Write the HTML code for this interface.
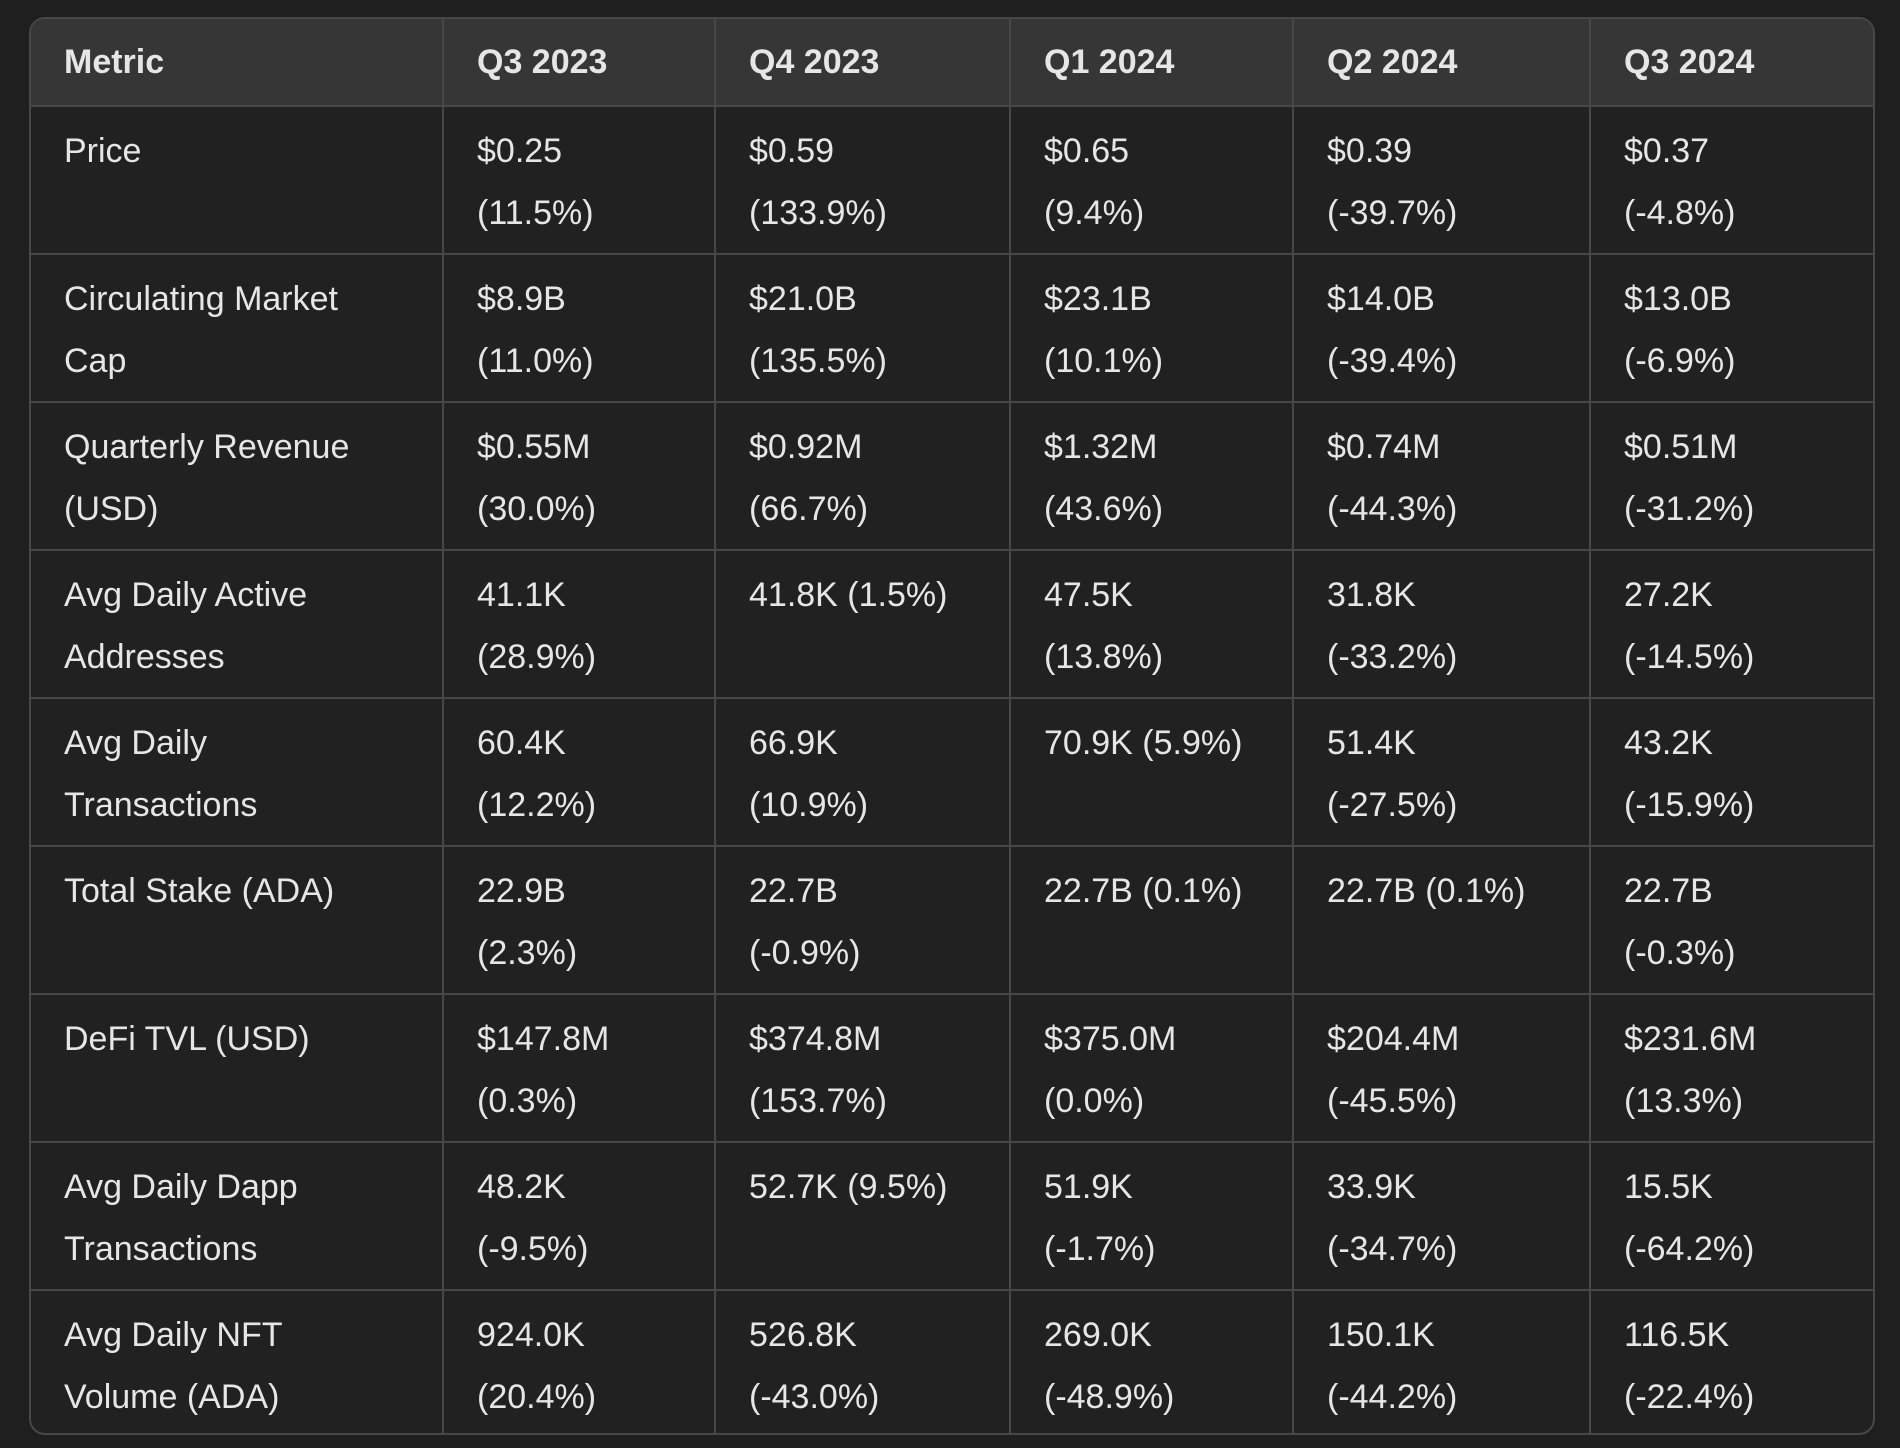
<!DOCTYPE html>
<html><head><meta charset="utf-8"><style>
html,body{margin:0;padding:0;background:#1f1f1f;width:1900px;height:1448px;overflow:hidden}
.wrap{position:absolute;left:29px;top:17px;width:1842px;height:1414px;border:2px solid #474747;border-radius:16px;overflow:hidden;background:#212121}
table{border-collapse:collapse;table-layout:fixed;width:1846px;margin:-2px 0 0 -2px;font-family:"Liberation Sans",sans-serif;color:#e6e6e6;font-size:34px}
td,th{border:2px solid #474747;vertical-align:top;text-align:left;padding:13px 30px 0 33px;line-height:62px;box-sizing:border-box}
th{background:#363636;font-weight:bold;height:88px;padding-top:12px}
td{height:148px}
</style></head><body>
<div class="wrap">
<table>
<colgroup><col style="width:413px"><col style="width:272px"><col style="width:295px"><col style="width:283px"><col style="width:297px"><col style="width:286px"></colgroup>
<tr><th>Metric</th><th>Q3 2023</th><th>Q4 2023</th><th>Q1 2024</th><th>Q2 2024</th><th>Q3 2024</th></tr>
<tr><td>Price</td><td>$0.25<br>(11.5%)</td><td>$0.59<br>(133.9%)</td><td>$0.65<br>(9.4%)</td><td>$0.39<br>(-39.7%)</td><td>$0.37<br>(-4.8%)</td></tr>
<tr><td>Circulating Market<br>Cap</td><td>$8.9B<br>(11.0%)</td><td>$21.0B<br>(135.5%)</td><td>$23.1B<br>(10.1%)</td><td>$14.0B<br>(-39.4%)</td><td>$13.0B<br>(-6.9%)</td></tr>
<tr><td>Quarterly Revenue<br>(USD)</td><td>$0.55M<br>(30.0%)</td><td>$0.92M<br>(66.7%)</td><td>$1.32M<br>(43.6%)</td><td>$0.74M<br>(-44.3%)</td><td>$0.51M<br>(-31.2%)</td></tr>
<tr><td>Avg Daily Active<br>Addresses</td><td>41.1K<br>(28.9%)</td><td>41.8K (1.5%)</td><td>47.5K<br>(13.8%)</td><td>31.8K<br>(-33.2%)</td><td>27.2K<br>(-14.5%)</td></tr>
<tr><td>Avg Daily<br>Transactions</td><td>60.4K<br>(12.2%)</td><td>66.9K<br>(10.9%)</td><td>70.9K (5.9%)</td><td>51.4K<br>(-27.5%)</td><td>43.2K<br>(-15.9%)</td></tr>
<tr><td>Total Stake (ADA)</td><td>22.9B<br>(2.3%)</td><td>22.7B<br>(-0.9%)</td><td>22.7B (0.1%)</td><td>22.7B (0.1%)</td><td>22.7B<br>(-0.3%)</td></tr>
<tr><td>DeFi TVL (USD)</td><td>$147.8M<br>(0.3%)</td><td>$374.8M<br>(153.7%)</td><td>$375.0M<br>(0.0%)</td><td>$204.4M<br>(-45.5%)</td><td>$231.6M<br>(13.3%)</td></tr>
<tr><td>Avg Daily Dapp<br>Transactions</td><td>48.2K<br>(-9.5%)</td><td>52.7K (9.5%)</td><td>51.9K<br>(-1.7%)</td><td>33.9K<br>(-34.7%)</td><td>15.5K<br>(-64.2%)</td></tr>
<tr><td>Avg Daily NFT<br>Volume (ADA)</td><td>924.0K<br>(20.4%)</td><td>526.8K<br>(-43.0%)</td><td>269.0K<br>(-48.9%)</td><td>150.1K<br>(-44.2%)</td><td>116.5K<br>(-22.4%)</td></tr>
</table>
</div>
</body></html>
